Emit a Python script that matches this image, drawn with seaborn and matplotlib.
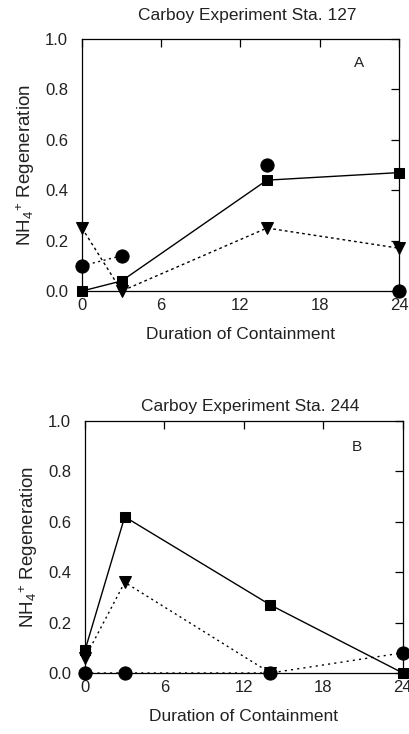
import matplotlib
matplotlib.use("Agg")
import matplotlib.pyplot as plt
import seaborn as sns
import pandas as pd

sns.set_theme(style="white")
plt.rcParams['font.family'] = ['Liberation Sans', 'DejaVu Sans']
plt.rcParams['mathtext.fontset'] = 'custom'
plt.rcParams['mathtext.rm'] = 'Liberation Sans'
plt.rcParams['mathtext.it'] = 'Liberation Sans'

hours = [0, 3, 14, 24]
xticks = [0, 6, 12, 18, 24]
yticks = [0.0, 0.2, 0.4, 0.6, 0.8, 1.0]

# Panel A - Sta. 127
a_square = [0.0, 0.04, 0.44, 0.47]
a_triangle = [0.25, 0.0, 0.25, 0.17]
a_circle = [0.10, 0.14, 0.50, 0.0]

# Panel B - Sta. 244
b_square = [0.09, 0.62, 0.27, 0.0]
b_tri_hours = [0, 3, 14]
b_triangle = [0.06, 0.36, 0.0]
b_circle = [0.0, 0.0, 0.0, 0.08]

fig = plt.figure(figsize=(4.09, 7.34), dpi=100)
axA = fig.add_axes([0.2005, 0.6035, 0.775, 0.3433])
axB = fig.add_axes([0.2078, 0.0831, 0.777, 0.3433])

txt = '#222222'

def series(ax, x, y, marker, ms, ls, lw=1.0, line=True, z=3):
    sns.lineplot(x=x, y=y, ax=ax, color='black', marker=marker, markersize=ms,
                 linestyle=ls if line else 'none', linewidth=lw, sort=False,
                 markeredgecolor='black', clip_on=False, zorder=z, estimator=None)

# Panel A
series(axA, hours, a_square, 's', 7.5, '-')
series(axA, hours, a_triangle, 'v', 8, (0, (2, 2.2)))
series(axA, hours[:2], a_circle[:2], 'o', 9.5, (0, (1.5, 2.5)))
series(axA, hours[2:], a_circle[2:], 'o', 9.5, '-', line=False)

# Panel B
series(axB, b_tri_hours, b_triangle, 'v', 8, (0, (1.5, 2.5)), z=2)
series(axB, hours, b_square, 's', 7.5, '-', z=3)
series(axB, hours, b_circle, 'o', 9.5, (0, (1.5, 3)), z=4)

titles = ["Carboy Experiment Sta. 127", "Carboy Experiment Sta. 244"]
letters = ["A", "B"]
letter_pos = [(0.874, 0.905), (0.855, 0.895)]
title_pads = [14, 7]
for ax, t, l, lp, tp in zip([axA, axB], titles, letters, letter_pos, title_pads):
    ax.set_xlim(0, 24)
    ax.set_ylim(0, 1.0)
    ax.set_xticks(xticks)
    ax.set_xticklabels([str(v) for v in xticks])
    ax.set_yticks(yticks)
    ax.set_yticklabels([f"{v:.1f}" for v in yticks])
    ax.tick_params(direction='in', length=6, width=0.9, top=True, right=True,
                   labelsize=12, colors='black', labelcolor=txt, pad=5)
    ax.tick_params(axis='y', pad=10)
    for s in ax.spines.values():
        s.set_color('black')
        s.set_linewidth(0.9)
    ax.set_title(t, fontsize=12.5, color=txt, pad=tp, x=0.52)
    ax.set_xlabel("Duration of Containment", fontsize=12.5, color=txt, labelpad=10)
    ax.set_ylabel(r"NH$_4$$^{+}$ Regeneration", fontsize=13.5, color=txt, labelpad=6)
    ax.text(lp[0], lp[1], l, transform=ax.transAxes, fontsize=11, color=txt,
            ha='center', va='center')
    ax.set_facecolor('white')
    if ax.get_legend():
        ax.get_legend().remove()

fig.savefig("out.png", dpi=100, facecolor='white')
